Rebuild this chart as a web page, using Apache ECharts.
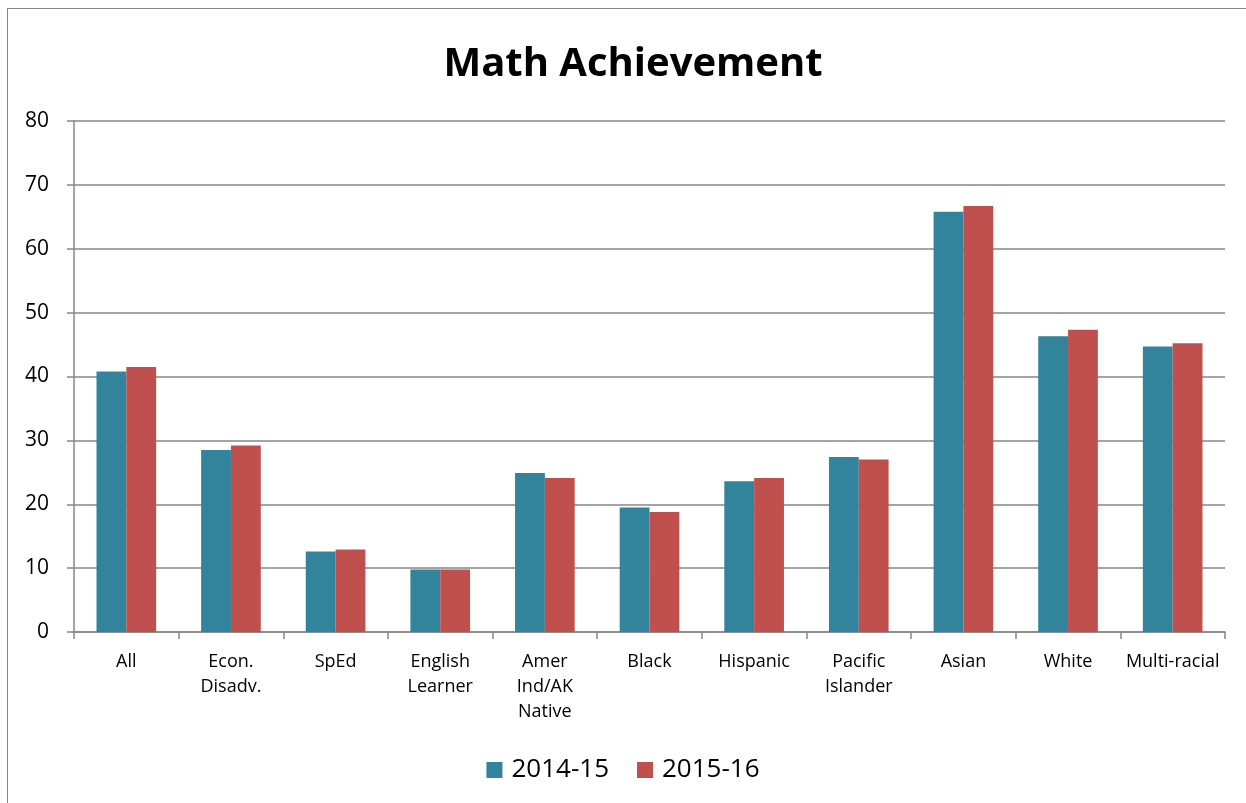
<!DOCTYPE html>
<html>
<head>
<meta charset="utf-8">
<script src="https://cdn.jsdelivr.net/npm/echarts@6/dist/echarts.min.js"></script>
<style>
  html, body { margin: 0; padding: 0; background: #fff; }
  #frame {
    position: absolute; left: 7px; top: 8px; width: 1250px; height: 800px;
    border: 1.5px solid #868686; box-sizing: border-box;
  }
  #chart { position: absolute; left: 0; top: 0; width: 1246px; height: 803px; }
</style>
</head>
<body>
<div id="frame"></div>
<div id="chart"></div>
<script>
// categories and values
const groups = ["All", "Econ.\nDisadv.", "SpEd", "English\nLearner", "Amer\nInd/AK\nNative",
  "Black", "Hispanic", "Pacific\nIslander", "Asian", "White", "Multi-racial"];
const years = ["2014-15", "2015-16"];
const y2014 = [40.8, 28.5, 12.6, 9.8, 24.9, 19.5, 23.6, 27.4, 65.8, 46.3, 44.7];
const y2015 = [41.5, 29.2, 12.9, 9.8, 24.1, 18.8, 24.1, 27.0, 66.7, 47.3, 45.2];
const colors = ["#31849B", "#C0504D"];

var chart = echarts.init(document.getElementById("chart"));
const font = "Open Sans";
const gray = "#868686";

chart.setOption({
  animation: false,
  title: {
    text: "Math Achievement",
    left: 628, top: 40,
    textAlign: "center",
    textStyle: { fontFamily: font, fontWeight: "bold", fontSize: 40, color: "#000" }
  },
  legend: {
    data: years,
    left: "center", top: 752,
    itemWidth: 16, itemHeight: 16, itemGap: 28,
    icon: "rect",
    textStyle: { fontFamily: font, fontSize: 26, color: "#000", padding: [0, 0, 0, 4] }
  },
  grid: { left: 74, right: 21, top: 121, bottom: 171 },
  xAxis: {
    type: "category",
    data: groups,
    axisLine: { lineStyle: { color: gray, width: 1.5 } },
    axisTick: { show: true, length: 7, lineStyle: { color: gray, width: 1.5 } },
    axisLabel: {
      interval: 0, margin: 17, lineHeight: 25,
      fontFamily: font, fontSize: 18, color: "#000"
    }
  },
  yAxis: {
    type: "value",
    min: 0, max: 80, interval: 10,
    axisLine: { show: true, lineStyle: { color: gray, width: 1.5 } },
    axisTick: { show: true, length: 7, lineStyle: { color: gray, width: 1.5 } },
    splitLine: { lineStyle: { color: gray, width: 1.5 } },
    axisLabel: { margin: 25, fontFamily: font, fontSize: 21, color: "#000" }
  },
  series: [
    {
      name: years[0], type: "bar", data: y2014,
      itemStyle: { color: colors[0] },
      barGap: "0%", barCategoryGap: "43%"
    },
    {
      name: years[1], type: "bar", data: y2015,
      itemStyle: { color: colors[1] },
      barGap: "0%", barCategoryGap: "43%"
    }
  ]
});
</script>
</body>
</html>
